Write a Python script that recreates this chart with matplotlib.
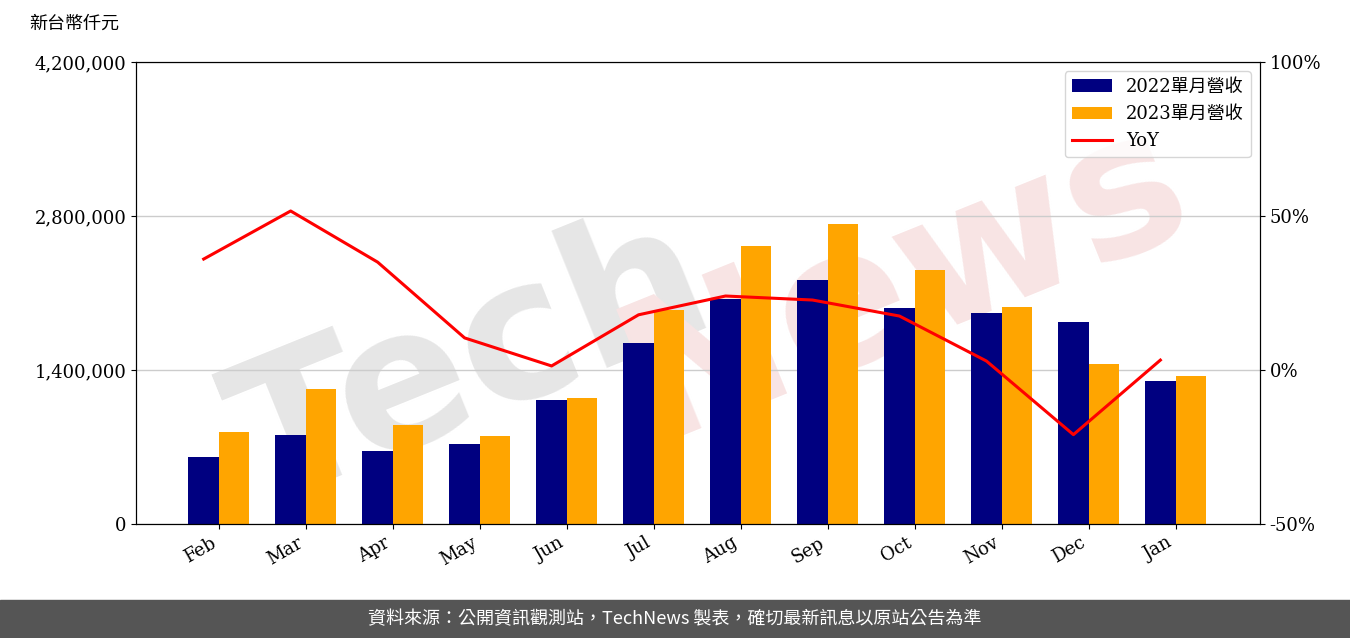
import matplotlib
matplotlib.use("Agg")
import matplotlib.pyplot as plt
import numpy as np

months = ["Feb","Mar","Apr","May","Jun","Jul","Aug","Sep","Oct","Nov","Dec","Jan"]
rev2022 = [609000,809000,664000,727000,1127000,1645000,2045000,2218000,1964000,1918000,1836000,1300000]
rev2023 = [836000,1227000,900000,800000,1145000,1945000,2527000,2727000,2309000,1973000,1455000,1345000]
yoy = [36.0,51.6,35.0,10.4,1.3,17.9,24.0,22.7,17.5,2.9,-21.0,3.2]

cjk = ['DejaVu Serif','Noto Sans CJK TC']
plt.rcParams['font.family'] = ['DejaVu Serif','Noto Sans CJK TC']

fig = plt.figure(figsize=(13.5,6.38), dpi=100)
ax = fig.add_axes([0.1007,0.1787,0.8326,0.7243])
ax.patch.set_alpha(0)
x = np.arange(len(months))
w = 0.35
b1 = ax.bar(x-w/2, rev2022, w, color='#000080', label='2022單月營收')
b2 = ax.bar(x+w/2, rev2023, w, color='#FFA500', label='2023單月營收')
ax.set_ylim(0,4200000)
ax.set_yticks([0,1400000,2800000,4200000])
ax.set_yticklabels(['0','1,400,000','2,800,000','4,200,000'], fontsize=13)
ax.set_xlim(-0.954, 11.97)
ax.set_xticks(x)
ax.set_xticklabels(months, rotation=30, ha='right', fontsize=13)
ax.grid(axis='y', color='#cccccc', lw=1)
ax.set_axisbelow(True)
fig.text(0.022,0.955,'新台幣仟元', fontsize=13, family=['Noto Sans CJK TC','DejaVu Sans'])

ax2 = ax.twinx()
l, = ax2.plot(x-w/2, yoy, color='red', lw=2.2, label='YoY')
ax2.set_ylim(-50,100)
ax2.set_yticks([-50,0,50,100])
ax2.set_yticklabels(['-50%','0%','50%','100%'], fontsize=13)

fig.text(0.35,0.43,'Tech', fontsize=140, rotation=22, color='#e6e6e6',
         ha='center', va='center', fontweight='bold', family='DejaVu Sans', zorder=-5)
fig.text(0.67,0.56,'News', fontsize=140, rotation=22, color='#f8e4e4',
         ha='center', va='center', fontweight='bold', family='DejaVu Sans', zorder=-5)

leg = ax2.legend([b1,b2,l],['2022單月營收','2023單月營收','YoY'], loc='upper right',
                 prop={'family':cjk,'size':13}, handlelength=2.2)

fig.patches.append(plt.Rectangle((0,0),1,0.06,transform=fig.transFigure,color='#555555'))
fig.text(0.5,0.03,'資料來源：公開資訊觀測站，TechNews 製表，確切最新訊息以原站公告為準',
         color='white', ha='center', va='center', fontsize=13, family=['Noto Sans CJK TC','DejaVu Sans'])
fig.savefig('out.png', dpi=100)
